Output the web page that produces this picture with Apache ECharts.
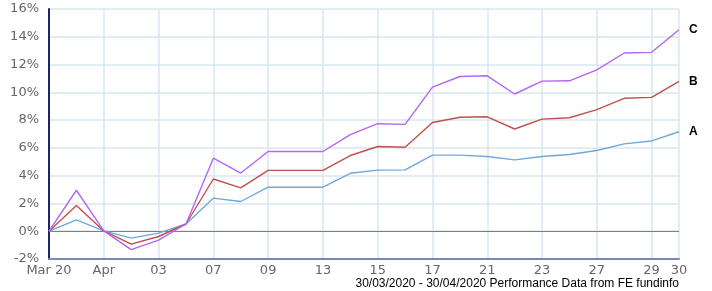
<!DOCTYPE html>
<html>
<head>
<meta charset="utf-8">
<script src="https://cdn.jsdelivr.net/npm/echarts@6/dist/echarts.min.js"></script>
<style>
html,body{margin:0;padding:0;background:#fff;}
#chart{width:712px;height:291px;}
</style>
</head>
<body>
<div id="chart"></div>
<script>
var categories = ['2020-03-30','2020-03-31','2020-04-01','2020-04-02','2020-04-03','2020-04-06','2020-04-07','2020-04-08','2020-04-09','2020-04-10','2020-04-13','2020-04-14','2020-04-15','2020-04-16','2020-04-17','2020-04-20','2020-04-21','2020-04-22','2020-04-23','2020-04-24','2020-04-27','2020-04-28','2020-04-29','2020-04-30'];
var tickLabels = ['Mar 20','','Apr','','03','','07','','09','','13','','15','','17','','21','','23','','27','','29','30'];
var seriesNames = ['A','B','C'];
var valuesA = [0,0.81,0.02,-0.5,-0.14,0.52,2.38,2.14,3.17,3.17,3.17,4.17,4.4,4.42,5.48,5.48,5.38,5.14,5.38,5.52,5.81,6.29,6.5,7.16];
var valuesB = [0,1.86,0.02,-0.93,-0.38,0.52,3.76,3.12,4.38,4.38,4.38,5.45,6.1,6.05,7.83,8.21,8.24,7.36,8.07,8.17,8.76,9.57,9.64,10.79];
var valuesC = [0,2.95,0.02,-1.33,-0.64,0.52,5.26,4.19,5.74,5.74,5.74,6.95,7.74,7.69,10.38,11.14,11.19,9.88,10.81,10.83,11.62,12.83,12.88,14.5];
var yTicks = {min:-2, max:16, interval:2};
var footerText = '30/03/2020 - 30/04/2020 Performance Data from FE fundinfo';

var colors = {A:'#6fa8dc', B:'#c0504d', C:'#b366f5'};
var font = 'DejaVu Sans, Verdana, sans-serif';

function mk(name, data, extra){
  var s = {
    name: name, type: 'line', data: data, symbol: 'none', smooth: false,
    lineStyle: {color: colors[name], width: 1.4},
    itemStyle: {color: colors[name]},
    endLabel: {show: true, formatter: name, color: '#000', fontWeight: 'bold',
      fontFamily: 'Liberation Sans, Arial, sans-serif', fontSize: 12, distance: 10},
    z: 3
  };
  if (extra) for (var k in extra) s[k] = extra[k];
  return s;
}

var chart = echarts.init(document.getElementById('chart'), null, {renderer:'canvas'});
chart.setOption({
  animation: false,
  backgroundColor: '#fff',
  grid: {left: 49, right: 33, top: 9, bottom: 32, containLabel: false},
  graphic: [{
    type: 'text', right: 33, bottom: 1,
    style: {text: footerText, fill: '#000', font: '12px Liberation Sans, Arial, sans-serif'}
  }],
  xAxis: {
    type: 'category', data: categories, boundaryGap: false,
    axisLine: {show: true, onZero: false, lineStyle: {color: '#7a88bb', width: 2}},
    axisTick: {show: false},
    axisLabel: {
      interval: function(i){ return tickLabels[i] !== ''; },
      formatter: function(v, i){ return tickLabels[i]; },
      color: '#666', fontSize: 13, fontFamily: font, margin: 5
    },
    splitLine: {show: true, interval: function(i){ return i % 2 === 0 || i === categories.length - 1; },
      lineStyle: {color: '#d8e6ef', width: 1.5}}
  },
  yAxis: {
    type: 'value', min: yTicks.min, max: yTicks.max, interval: yTicks.interval,
    axisLine: {show: true, lineStyle: {color: '#1c2470', width: 2}},
    axisTick: {show: false},
    axisLabel: {formatter: '{value}%', color: '#666', fontSize: 13, fontFamily: font, margin: 10},
    splitLine: {show: true, lineStyle: {color: '#d8e6ef', width: 1.5}}
  },
  series: [
    mk('A', valuesA, {markLine: {silent: true, symbol: 'none', label: {show: false},
      lineStyle: {color: '#808080', width: 1, type: 'solid'}, data: [{yAxis: 0}], z: 2}}),
    mk('B', valuesB),
    mk('C', valuesC)
  ]
});
</script>
</body>
</html>
